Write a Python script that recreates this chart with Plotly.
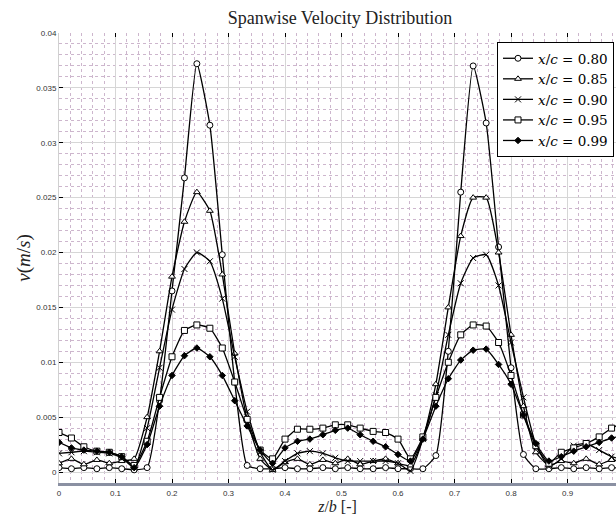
import plotly.graph_objects as go

# spanwise stations z/b
z = [0.000, 0.022, 0.044, 0.067, 0.089, 0.111, 0.133, 0.156, 0.178, 0.200,
     0.222, 0.244, 0.267, 0.289, 0.311, 0.333, 0.356, 0.378, 0.400, 0.422,
     0.444, 0.467, 0.489, 0.511, 0.533, 0.556, 0.578, 0.600, 0.622, 0.644,
     0.667, 0.689, 0.711, 0.733, 0.756, 0.778, 0.800, 0.822, 0.844, 0.867,
     0.889, 0.911, 0.933, 0.956, 0.978, 1.000]

v_080 = [0.0004, 0.0003, 0.0004, 0.0003, 0.0004, 0.0003, 0.0002, 0.0004, 0.0065, 0.0165,
         0.0268, 0.0372, 0.0316, 0.0198, 0.0082, 0.0006, 0.0003, 0.0003, 0.0004, 0.0003,
         0.0003, 0.0004, 0.0003, 0.0004, 0.0003, 0.0003, 0.0004, 0.0003, 0.0003, 0.0003,
         0.0015, 0.0110, 0.0255, 0.0370, 0.0318, 0.0205, 0.0095, 0.0016, 0.0003, 0.0003,
         0.0004, 0.0003, 0.0004, 0.0003, 0.0004, 0.0003]

v_085 = [0.0008, 0.0012, 0.0007, 0.0011, 0.0008, 0.0010, 0.0012, 0.0050, 0.0110, 0.0178,
         0.0228, 0.0255, 0.0238, 0.0180, 0.0108, 0.0048, 0.0012, 0.0002, 0.0009, 0.0012,
         0.0007, 0.0011, 0.0008, 0.0012, 0.0007, 0.0010, 0.0012, 0.0008, 0.0006, 0.0030,
         0.0080, 0.0150, 0.0215, 0.0250, 0.0250, 0.0200, 0.0125, 0.0060, 0.0018, 0.0006,
         0.0010, 0.0008, 0.0012, 0.0007, 0.0011, 0.0009]

v_090 = [0.0017, 0.0018, 0.0019, 0.0018, 0.0017, 0.0013, 0.0004, 0.0040, 0.0095, 0.0148,
         0.0185, 0.0200, 0.0192, 0.0158, 0.0105, 0.0055, 0.0018, 0.0002, 0.0010, 0.0017,
         0.0019, 0.0017, 0.0013, 0.0010, 0.0010, 0.0010, 0.0010, 0.0008, 0.0001, 0.0030,
         0.0070, 0.0125, 0.0172, 0.0195, 0.0198, 0.0170, 0.0118, 0.0068, 0.0025, 0.0005,
         0.0012, 0.0024, 0.0026, 0.0020, 0.0014, 0.0011]

v_095 = [0.0036, 0.0031, 0.0023, 0.0019, 0.0018, 0.0014, 0.0006, 0.0028, 0.0068, 0.0105,
         0.0129, 0.0134, 0.0131, 0.0113, 0.0082, 0.0048, 0.0020, 0.0012, 0.0030, 0.0039,
         0.0039, 0.0040, 0.0043, 0.0043, 0.0040, 0.0037, 0.0036, 0.0030, 0.0012, 0.0032,
         0.0068, 0.0100, 0.0125, 0.0134, 0.0133, 0.0118, 0.0088, 0.0052, 0.0024, 0.0008,
         0.0018, 0.0022, 0.0026, 0.0032, 0.0040, 0.0045]

v_099 = [0.0027, 0.0022, 0.0020, 0.0019, 0.0018, 0.0014, 0.0004, 0.0025, 0.0060, 0.0088,
         0.0106, 0.0113, 0.0105, 0.0088, 0.0065, 0.0042, 0.0020, 0.0008, 0.0022, 0.0028,
         0.0030, 0.0034, 0.0038, 0.0040, 0.0034, 0.0028, 0.0023, 0.0016, 0.0010, 0.0030,
         0.0060, 0.0085, 0.0102, 0.0111, 0.0112, 0.0098, 0.0080, 0.0052, 0.0026, 0.0010,
         0.0014, 0.0019, 0.0023, 0.0027, 0.0031, 0.0033]

series_names = ["0.80", "0.85", "0.90", "0.95", "0.99"]
series_values = [v_080, v_085, v_090, v_095, v_099]
series_symbols = ["circle", "triangle-up", "x-thin", "square", "diamond"]
series_fill = ["white", "white", "black", "white", "black"]
series_size = [6, 6, 6, 6, 5]

x_ticks = [0, 0.1, 0.2, 0.3, 0.4, 0.5, 0.6, 0.7, 0.8, 0.9]
x_ticklabels = ["0", "0.1", "0.2", "0.3", "0.4", "0.5", "0.6", "0.7", "0.8", "0.9"]
y_ticks = [0, 0.005, 0.01, 0.015, 0.02, 0.025, 0.03, 0.035, 0.04]
y_ticklabels = ["0", "0.005", "0.01", "0.015", "0.02", "0.025", "0.03", "0.035", "0.04"]

SERIF = "Liberation Serif, DejaVu Serif, serif"
DSERIF = "DejaVu Serif, Liberation Serif, serif"
SANS = "Liberation Sans, Arial, sans-serif"

fig = go.Figure()
for name, vals, sym, fillc, sz in zip(series_names, series_values, series_symbols,
                                      series_fill, series_size):
    fig.add_trace(go.Scatter(
        x=z, y=vals, mode="lines+markers",
        name="<i>x</i>/<i>c</i> = " + name,
        line=dict(color="black", width=1.3, shape="spline", smoothing=0.5),
        marker=dict(symbol=sym, size=sz, color=fillc,
                    line=dict(color="black", width=1)),
    ))

# helper trace for top-axis tick marks
fig.add_trace(go.Scatter(x=[None], y=[None], xaxis="x2", showlegend=False,
                         hoverinfo="skip"))

XR = [0, 0.9858]
grid_major = "#d6d6d6"
grid_minor = "#cdb6cd"

fig.update_layout(
    width=616, height=527,
    margin=dict(l=59, r=0, t=33, b=44, pad=0),
    paper_bgcolor="white", plot_bgcolor="white",
    showlegend=True,
    title=dict(text="Spanwise Velocity Distribution",
               font=dict(family=SERIF, size=18, color="#222"),
               x=340 / 616, xref="container", xanchor="center",
               y=1 - 18 / 527, yref="container", yanchor="middle"),
    xaxis=dict(range=XR, tickvals=x_ticks, ticktext=x_ticklabels,
               tickfont=dict(family=SANS, size=8, color="#333"),
               ticks="inside", ticklen=4, tickcolor="black", tickwidth=1,
               showgrid=True, gridcolor=grid_major, gridwidth=1,
               minor=dict(dtick=0.02, tick0=0, showgrid=True, gridcolor=grid_minor,
                          griddash="dot", gridwidth=1, ticks=""),
               showline=True, linecolor="#8a90a2", linewidth=3,
               zeroline=False,
               title=dict(text="<i>z</i>/<i>b</i> [-]",
                          font=dict(family=SERIF, size=16, color="#222"),
                          standoff=5)),
    xaxis2=dict(range=XR, overlaying="x", side="top", tickvals=x_ticks,
                showticklabels=False, ticks="inside", ticklen=4,
                tickcolor="black", tickwidth=1, showgrid=False,
                showline=False, zeroline=False),
    yaxis=dict(range=[-0.001, 0.04], tickvals=y_ticks, ticktext=y_ticklabels,
               tickfont=dict(family=SANS, size=8, color="#333"),
               ticks="inside", ticklen=4, tickcolor="black", tickwidth=1,
               showgrid=True, gridcolor=grid_major, gridwidth=1,
               minor=dict(dtick=0.001, tick0=0, showgrid=True, gridcolor=grid_minor,
                          griddash="dot", gridwidth=1, ticks=""),
               showline=True, linecolor="#d0d0d0", linewidth=1,
               zeroline=False,
               title=dict(text="<i>v</i>(<i>m</i>/<i>s</i>)",
                          font=dict(family=SERIF, size=19, color="#222"),
                          standoff=0)),
    legend=dict(x=(497 - 59) / 557, y=1 - 9 / 450, xanchor="left", yanchor="top",
                bgcolor="white", bordercolor="black", borderwidth=1,
                font=dict(family=DSERIF, size=13.5, color="black"),
                tracegroupgap=0, itemwidth=30),
)

# slightly tinted grid lines as in the original
fig.add_hline(y=0.02, line=dict(color="#e6b4e6", width=1), layer="below")
fig.add_vline(x=0.5, line=dict(color="#ecc4ec", width=1), layer="below")

fig.write_html("out.html")
